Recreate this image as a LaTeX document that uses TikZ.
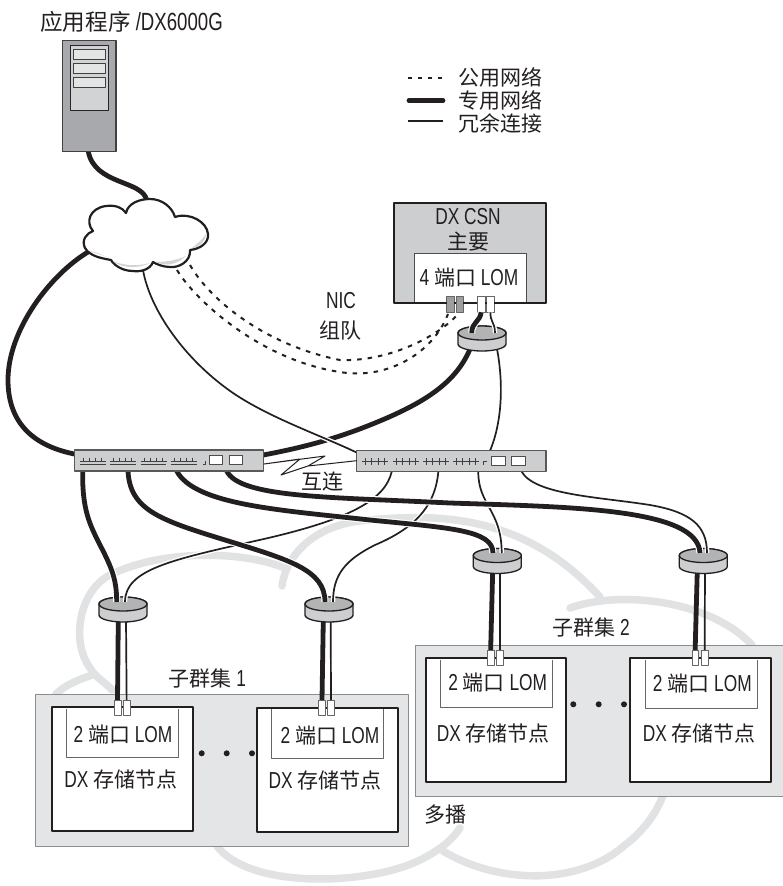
\documentclass[tikz,border=0pt]{standalone}
\usepackage{fontspec}
\setmainfont{Liberation Sans}[FakeStretch=0.75,Scale=1.1]
\newfontfamily\cjk{Noto Sans CJK SC}
\newcommand\zh[1]{{\cjk #1}}
\definecolor{panelg}{HTML}{E4E5E7}
\definecolor{boxg}{HTML}{CDCED0}
\definecolor{srvg}{HTML}{A7A9AC}
\definecolor{srvl}{HTML}{D1D3D4}
\definecolor{bgcl}{HTML}{E1E2E4}
\definecolor{ink}{HTML}{231F20}
\tikzset{
  rectnode/.style={anchor=north west,inner sep=0pt,outer sep=0pt},
  panelbox/.style={rectnode,draw=black!45,line width=.9pt,fill=panelg},
  nodebox/.style={rectnode,draw=ink,line width=2.2pt,fill=white},
  switchbox/.style={rectnode,draw=black!65,line width=1.1pt,fill=boxg},
  csnbox/.style={rectnode,draw=ink,line width=2pt,fill=boxg},
  portw/.style={rectnode,draw=black!60,line width=.8pt,fill=white},
  portg/.style={rectnode,draw=black!60,line width=.8pt,fill=srvl!75!black},
  swport/.style={rectnode,draw=black!70,line width=.9pt,fill=white},
  txt/.style={inner sep=0pt,font=\fontsize{21}{23}\selectfont,text=ink,align=center},
  thinw/.style={draw=ink,line width=1.7pt},
  halothin/.style={draw=white,line width=4.4pt},
  thickw/.style={draw=ink,line width=4.8pt},
  halothick/.style={draw=white,line width=7pt},
  dashw/.style={draw=ink,line width=2pt,dash pattern=on 4.5pt off 6pt},
  bgline/.style={draw=bgcl,line width=7.5pt,line cap=round},
  lomline/.style={draw=black!60,line width=.9pt},
}
\newcommand\nrect[6]{\node[#1,minimum width={(#5-#3)*1pt},minimum height={(#6-#4)*1pt}] (#2) at (#3,#4) {};}
\newcommand\wirethin[1]{\draw[halothin] #1;\draw[thinw] #1;}
\newcommand\wirethick[1]{\draw[halothick] #1;\draw[thickw] #1;}
\newcommand\ringn[3]{%
  \coordinate (#1) at (#2,#3);
  \draw[fill=boxg,draw=ink,line width=1.3pt] (#2-24,#3) -- (#2-24,#3+11) arc[start angle=180,end angle=0,x radius=24,y radius=7] -- (#2+24,#3) arc[start angle=360,end angle=180,x radius=24,y radius=7] -- cycle;
  \draw[fill=srvl!85!black,draw=ink,line width=1.3pt] (#2,#3) ellipse[x radius=24,y radius=7];
}
\newcommand\ticksa[3]{%
  \draw[draw=black!75,line width=.8pt] (#1,#2) -- (#1+26,#2);
  \foreach \k in {1,...,4}{\draw[draw=black!75,line width=.8pt] (#1+\k*6.2-3,#2-3.5) -- (#1+\k*6.2-3,#2+#3);}
}
\begin{document}
\begin{tikzpicture}[x=1pt,y=-1pt,line join=round]
\useasboundingbox (0,0) rectangle (783,886);
\fill[white] (0,0) rectangle (783,886);

% background "multicast" cloud
\draw[bgline] (282,586) .. controls (286,555) and (315,523) .. (370,520) .. controls (450,512) and (530,520) .. (600,597);
\draw[bgline] (570,608) .. controls (620,590) and (710,600) .. (752,645);
\draw[bgline] (285,568) .. controls (240,550) and (160,550) .. (110,575) .. controls (80,590) and (70,640) .. (90,668) .. controls (96,678) and (105,682) .. (112,690);
\draw[bgline] (92,675) .. controls (78,680) and (65,685) .. (56,694);
\draw[bgline] (217,846) .. controls (250,890) and (370,885) .. (420,860) .. controls (440,850) and (452,840) .. (460,828);
\draw[bgline] (443,851) .. controls (500,885) and (580,885) .. (625,845) .. controls (645,830) and (658,810) .. (663,795);

% panels
\nrect{panelbox}{panA}{35}{694}{408.3}{846}
\nrect{panelbox}{panB}{415.7}{645.7}{790}{796}

% storage nodes
\nrect{nodebox}{nodeA}{52.3}{707.3}{192.7}{831}
\nrect{nodebox}{nodeB}{257.3}{708}{397.7}{832.3}
\nrect{nodebox}{nodeC}{425.7}{658.3}{566}{782.3}
\nrect{nodebox}{nodeD}{630}{658.3}{770.7}{782.3}
\draw[lomline] (66.7,708.5) -- (66.7,757.3) -- (178.7,757.3) -- (178.7,708.5);
\draw[lomline] (271.3,709) -- (271.3,758.3) -- (383.3,758.3) -- (383.3,709);
\draw[lomline] (440,659.5) -- (440,707.7) -- (552.3,707.7) -- (552.3,659.5);
\draw[lomline] (645,659.5) -- (645,708.3) -- (757.3,708.3) -- (757.3,659.5);
\foreach \x/\y in {201.7/753.3,226.7/753.3,252/753.3,573.3/704.3,598.7/704.3,624/704.3}{\fill[ink] (\x,\y) circle[radius=3];}

% ports on nodes
\nrect{portw}{pa1}{114}{700}{121}{715}
\nrect{portw}{pa2}{123.3}{700}{130}{715}
\nrect{portw}{pb1}{318.7}{700}{325.3}{715}
\nrect{portw}{pb2}{327.7}{700}{334.3}{715}
\nrect{portw}{pc1}{487.3}{650}{494}{665}
\nrect{portw}{pc2}{496.7}{650}{503.3}{665}
\nrect{portw}{pd1}{692}{650}{698.3}{665}
\nrect{portw}{pd2}{701}{650}{708.3}{665}

% wires from rings to node ports
\coordinate (ra1) at (118.3,620);\coordinate (ra2) at (126,620);
\coordinate (rb1) at (323.3,620);\coordinate (rb2) at (330.7,620);
\coordinate (rc1) at (492.7,570);\coordinate (rc2) at (500,570);
\coordinate (rd1) at (697.3,570);\coordinate (rd2) at (705,570);
\draw[draw=ink,line width=4.8pt] (ra1) -- (pa1.north);
\draw[draw=ink,line width=1.7pt] (ra2) -- (pa2.north);
\draw[draw=ink,line width=4.8pt] (rb1) -- (pb1.north);
\draw[draw=ink,line width=1.7pt] (rb2) -- (pb2.north);
\draw[draw=ink,line width=4.8pt] (rc1) -- (pc1.north);
\draw[draw=ink,line width=1.7pt] (rc2) -- (pc2.north);
\draw[draw=ink,line width=4.8pt] (rd1) -- (pd1.north);
\draw[draw=ink,line width=1.7pt] (rd2) -- (pd2.north);

% attachment points
\coordinate (swa1) at (82.7,471);\coordinate (swa2) at (128,471);
\coordinate (swa3) at (176.7,471);\coordinate (swa4) at (226.7,471);
\coordinate (swaL) at (74.3,454);\coordinate (swaR) at (263.3,455);
\coordinate (swb1) at (391.7,471.7);\coordinate (swb2) at (438.3,471.7);
\coordinate (swb3) at (478.3,471.7);\coordinate (swb4) at (521.7,471.7);
\coordinate (swbL) at (357,452.7);\coordinate (swbT) at (490,450.7);
\coordinate (cloudS) at (143,270);\coordinate (cloudL) at (88,252);\coordinate (cloudT) at (146.7,200);
\coordinate (cloudD1) at (177,270);\coordinate (cloudD2) at (190,265);

% wires under the CSN ring
\coordinate (csnl) at (470,349);\coordinate (csnr) at (497,349);
\wirethick{(csnl) .. controls (455,385) and (420,405) .. (370,425) .. controls (330,441) and (295,449) .. (swaR)}
\wirethin{(csnr) .. controls (503,380) and (503,420) .. (swbT)}
\ringn{rcsn}{482}{333}

% rings
\ringn{rgA}{123}{604}
\ringn{rgB}{329}{604}
\ringn{rgC}{497.3}{555.5}
\ringn{rgD}{703.3}{555.5}

% redundant wires
\coordinate (ea2) at (125,602);\coordinate (eb2) at (333,602);
\coordinate (ec2) at (501.7,553);\coordinate (ed2) at (707,553);
\coordinate (ea1) at (116.7,602);\coordinate (eb1) at (325,602);
\coordinate (ec1) at (493,553);\coordinate (ed1) at (700,553);
\wirethin{(swb1) .. controls (385,500) and (350,520) .. (255,541) .. controls (170,560) and (125,570) .. (ea2)}
\wirethin{(swb2) .. controls (435,510) and (410,530) .. (375,545) .. controls (345,560) and (333,575) .. (eb2)}
\wirethin{(swb3) .. controls (478,505) and (501.7,510) .. (ec2)}
\wirethin{(swb4) .. controls (535,495) and (600,497) .. (650,505) .. controls (690,512) and (707,525) .. (ed2)}

% private wires
\wirethick{(swa1) .. controls (82,510) and (90,525) .. (100,545) .. controls (112,568) and (116.7,580) .. (ea1)}
\wirethick{(swa2) .. controls (130,510) and (160,520) .. (225,540) .. controls (290,560) and (325,570) .. (eb1)}
\wirethick{(swa3) .. controls (195,505) and (280,510) .. (370,520) .. controls (450,528) and (493,530) .. (ec1)}
\wirethick{(swa4) .. controls (240,498) and (330,497) .. (450,503) .. controls (570,507) and (698,508) .. (ed1)}
\wirethick{(cloudL) .. controls (50,275) and (8,330) .. (8,380) .. controls (8,420) and (30,445) .. (swaL)}
\coordinate (srvbot) at (88.3,151.7);
\wirethick{(cloudT) .. controls (142,180) and (95,185) .. (srvbot)}

% redundant wire from cloud to switch 2
\wirethin{(cloudS) .. controls (150,310) and (185,360) .. (233,393) .. controls (270,418) and (320,435) .. (swbL)}

% public dashed wires
\coordinate (pg1) at (448,314);\coordinate (pg2) at (458,314);
\draw[dashw] (cloudD1) .. controls (195,300) and (260,360) .. (340,372) .. controls (385,380) and (432,355) .. (pg1);
\draw[dashw] (cloudD2) .. controls (210,300) and (265,345) .. (340,360) .. controls (390,362) and (440,335) .. (pg2);

% cloud
\draw[fill=white,draw=ink,line width=2.2pt] (93,231) .. controls (85,222) and (90,208) .. (106,206) .. controls (115,205) and (122,207) .. (126,213) .. controls (128,203) and (140,199) .. (150,199) .. controls (162,199) and (172,207) .. (175,217) .. controls (190,212) and (207,222) .. (208,234) .. controls (209,243) and (200,249) .. (190,250) .. controls (191,262) and (178,268) .. (170,267) .. controls (163,267) and (156,264) .. (153,262) .. controls (150,270) and (140,272) .. (133,271) .. controls (122,271) and (114,265) .. (111,260) .. controls (100,258) and (90,256) .. (85,248) .. controls (81,240) and (87,233) .. (93,231) -- cycle;
\fill[srvl] (88,250) .. controls (95,254) and (105,255) .. (111,259) .. controls (102,254) and (94,252) .. (88,250) -- cycle;
\fill[srvl] (113,261) .. controls (120,267) and (135,270) .. (150,263) .. controls (135,267) and (122,265) .. (113,261) -- cycle;
\fill[srvl] (156,262) .. controls (165,266) and (175,266) .. (186,256) .. controls (178,260) and (166,262) .. (156,262) -- cycle;
\fill[srvl] (192,248) .. controls (200,247) and (205,242) .. (206,234) .. controls (202,240) and (197,244) .. (192,248) -- cycle;

% server
\nrect{rectnode,draw=black!75,line width=1.2pt,fill=srvg}{server}{62.3}{40.7}{116}{151.7}
\nrect{rectnode,draw=black!85,line width=1pt,fill=srvl}{srvin}{70.3}{45}{108.7}{110}
\nrect{rectnode,draw=black!75,line width=.9pt,fill=srvl!60!white}{slot1}{73.7}{49.3}{105}{59.7}
\nrect{rectnode,draw=black!75,line width=.9pt,fill=srvl!60!white}{slot2}{73.7}{63}{105}{73.3}
\nrect{rectnode,draw=black!75,line width=.9pt,fill=srvl!60!white}{slot3}{73.7}{77}{105}{87.3}

% switches
\nrect{switchbox}{swA}{74.3}{450}{263.3}{471}
\nrect{switchbox}{swB}{356.7}{450.7}{546}{471.7}
\ticksa{80}{461}{0}
\ticksa{110}{461}{0}
\ticksa{140.7}{461}{0}
\ticksa{170.7}{461}{0}
\draw[draw=black!75,line width=.7pt] (80,464) -- (106,464) (110,464) -- (136,464) (141,464) -- (166,464) (171,464) -- (197,464);
\draw[draw=black!75,line width=.8pt] (203,464) -- (205,464) -- (205,461);
\ticksa{362.3}{461.5}{3.5}
\ticksa{393.3}{461.5}{3.5}
\ticksa{423.3}{461.5}{3.5}
\ticksa{453.3}{461.5}{3.5}
\draw[draw=black!75,line width=.8pt] (483.5,465) -- (483.5,461) -- (487,461);
\nrect{swport}{spa1}{209}{455.7}{222.3}{464.3}
\nrect{swport}{spa2}{229.3}{455.7}{242.7}{464.3}
\nrect{swport}{spb1}{491.7}{456.7}{505}{465}
\nrect{swport}{spb2}{511.7}{456.7}{525}{465}

% interconnect bolt
\coordinate (boltA) at (264,464);\coordinate (boltB) at (356.7,460.7);
\draw[draw=ink,line width=1pt,fill=white] (boltA) -- (325,456) -- (308,466) -- (boltB) -- (308,466) -- (281,475) -- (300,459) -- cycle;

% CSN box
\nrect{csnbox}{csn}{394}{203.3}{546}{303.3}
\nrect{rectnode,fill=white,draw=black!70,line width=.8pt}{csnlom}{414.3}{253.3}{526.7}{303.3}
\nrect{portg}{pg1n}{446.7}{296}{454}{312.3}
\nrect{portg}{pg2n}{456}{296}{463.3}{312.3}
\nrect{portw}{pw1n}{477.3}{296}{485}{312.3}
\nrect{portw}{pw2n}{486.7}{296}{494.3}{312.3}
\draw[draw=ink,line width=2pt] (csn.south west) -- (446.7,303.3) (454,303.3) -- (456,303.3) (463.3,303.3) -- (477.3,303.3) (485,303.3) -- (486.7,303.3) (494.3,303.3) -- (csn.south east);
\coordinate (rtop1) at (471.7,333);\coordinate (rtop2) at (495,333);
\wirethick{(pw1n.south) .. controls (480,322) and (471.7,322) .. (rtop1)}
\wirethin{(pw2n.south) .. controls (490,322) and (495,322) .. (rtop2)}

% legend
\coordinate (la1) at (408,78);\coordinate (la2) at (443,78);
\coordinate (lb1) at (409,100.7);\coordinate (lb2) at (443,100.7);
\coordinate (lc1) at (408,120.7);\coordinate (lc2) at (443,120.7);
\draw[draw=ink,line width=1.9pt,dash pattern=on 4pt off 6pt] (la1) -- (la2);
\draw[draw=ink,line width=4.8pt,line cap=round] (lb1) -- (lb2);
\draw[draw=ink,line width=1.9pt] (lc1) -- (lc2);

% texts
\node[txt,anchor=west,font=\fontsize{22.6}{24}\selectfont] (tTitle) at (40,22) {\zh{应用程序} /DX6000G};
\node[txt,anchor=west] (tL1) at (458,77) {\zh{公用网络}};
\node[txt,anchor=west] (tL2) at (458,100) {\zh{专用网络}};
\node[txt,anchor=west] (tL3) at (458,123) {\zh{冗余连接}};
\node[txt] (tCsn1) at (468,216.7) {DX CSN};
\node[txt] (tCsn2) at (468,241.7) {\zh{主要}};
\node[txt] (tCsn3) at (469,278) {4 \zh{端口} LOM};
\node[txt] (tNic1) at (341,301) {NIC};
\node[txt] (tNic2) at (340,331) {\zh{组队}};
\node[txt] (tHl) at (322,482) {\zh{互连}};
\node[txt] (tS1) at (207.3,678) {\zh{子群集} 1};
\node[txt] (tS2) at (591,627.3) {\zh{子群集} 2};
\node[txt] (tM) at (445.7,815) {\zh{多播}};
\node[txt] (tLa) at (123,735) {2 \zh{端口} LOM};
\node[txt] (tLb) at (330,735.5) {2 \zh{端口} LOM};
\node[txt] (tLc) at (497.7,682.7) {2 \zh{端口} LOM};
\node[txt] (tLd) at (702.3,683.7) {2 \zh{端口} LOM};
\node[txt] (tDa) at (120.7,779.3) {DX \zh{存储节点}};
\node[txt] (tDb) at (325,780) {DX \zh{存储节点}};
\node[txt] (tDc) at (493.3,733) {DX \zh{存储节点}};
\node[txt] (tDd) at (699.3,733) {DX \zh{存储节点}};
\end{tikzpicture}
\end{document}
